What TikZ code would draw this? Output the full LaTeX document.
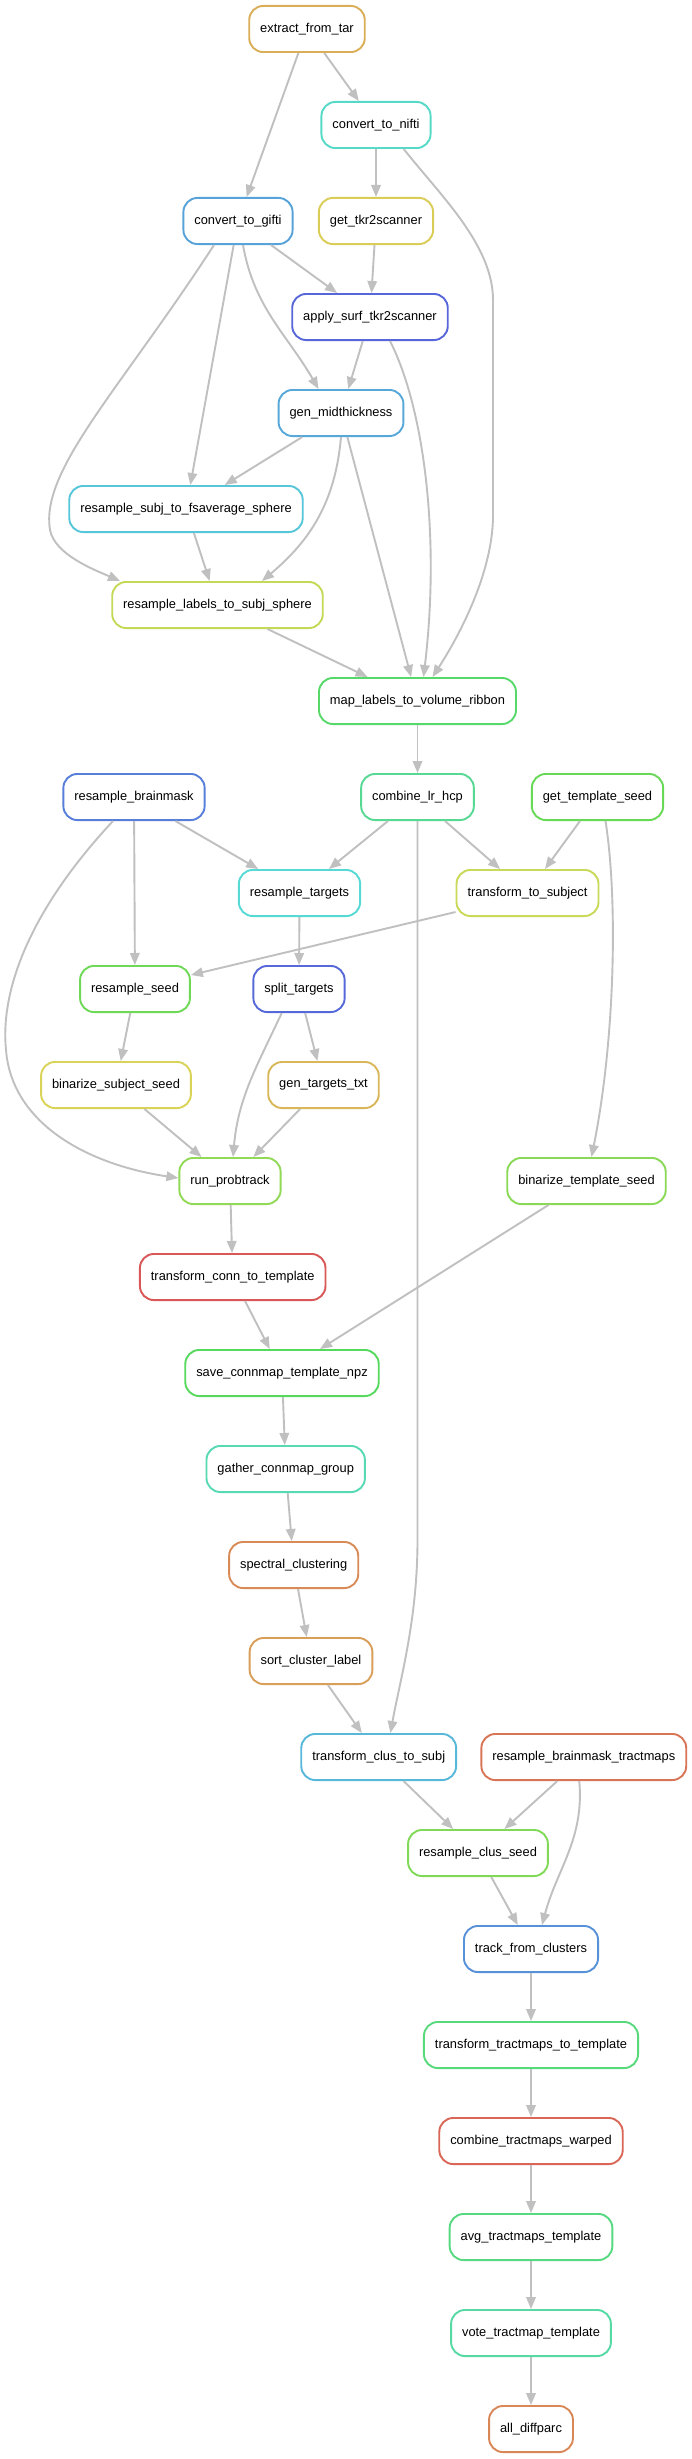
\documentclass[tikz,border=0pt]{standalone}
\usepackage{fontspec}
\setmainfont{Liberation Sans}
\usepackage{xcolor}
\usepackage{tikz}
\usetikzlibrary{arrows.meta}

\definecolor{edgegray}{HTML}{C0C0C0}
\definecolor{c_tar}{HTML}{D9AE57}
\definecolor{c_nifti}{HTML}{57D9C8}
\definecolor{c_gifti}{HTML}{57A3D9}
\definecolor{c_tkr}{HTML}{D9CC57}
\definecolor{c_apply}{HTML}{5766D9}
\definecolor{c_mid}{HTML}{57A8D9}
\definecolor{c_fsavg}{HTML}{57C6D9}
\definecolor{c_sphere}{HTML}{C5D957}
\definecolor{c_ribbon}{HTML}{57D96A}
\definecolor{c_bmask}{HTML}{577ED9}
\definecolor{c_combine}{HTML}{57D994}
\definecolor{c_tplseed}{HTML}{67D957}
\definecolor{c_restarg}{HTML}{57D9D6}
\definecolor{c_tosubj}{HTML}{CAD957}
\definecolor{c_resseed}{HTML}{6FD957}
\definecolor{c_split}{HTML}{5769D9}
\definecolor{c_binsubj}{HTML}{D9D457}
\definecolor{c_gentxt}{HTML}{D9B657}
\definecolor{c_probtrack}{HTML}{91D957}
\definecolor{c_bintpl}{HTML}{89D957}
\definecolor{c_conntpl}{HTML}{D95757}
\definecolor{c_npz}{HTML}{57D95E}
\definecolor{c_gather}{HTML}{57D9B4}
\definecolor{c_spectral}{HTML}{D98B57}
\definecolor{c_sort}{HTML}{D99E57}
\definecolor{c_clussubj}{HTML}{57B8D9}
\definecolor{c_bmtract}{HTML}{D97557}
\definecolor{c_clusseed}{HTML}{80D957}
\definecolor{c_track}{HTML}{5792D9}
\definecolor{c_tracttpl}{HTML}{57D97C}
\definecolor{c_warped}{HTML}{D96657}
\definecolor{c_avg}{HTML}{57D982}
\definecolor{c_vote}{HTML}{57D9A5}
\definecolor{c_diffparc}{HTML}{D98757}

\tikzset{
  rule/.style={draw=#1, rounded corners=14pt, line width=1.9pt, minimum height=46.1pt,
    inner xsep=11pt, inner ysep=0pt, font=\fontsize{12.85}{15}\selectfont},
  dep/.style={draw=edgegray, line width=1.9pt, -{Triangle[length=12pt,width=9.5pt]}}
}

\begin{document}
\begin{tikzpicture}[x=1pt,y=1pt]
					\useasboundingbox[fill=white] (0,0) rectangle (692,-2459);
					% rules
					\node[rule=c_tar] (tar) at (307,-29) {extract\_from\_tar};
					\node[rule=c_nifti] (nifti) at (376,-125) {convert\_to\_nifti};
					\node[rule=c_gifti] (gifti) at (238,-221) {convert\_to\_gifti};
					\node[rule=c_tkr] (tkr) at (376,-221) {get\_tkr2scanner};
					\node[rule=c_apply] (apply) at (370,-317) {apply\_surf\_tkr2scanner};
					\node[rule=c_mid] (mid) at (341,-413) {gen\_midthickness};
					\node[rule=c_fsavg] (fsavg) at (186,-509) {resample\_subj\_to\_fsaverage\_sphere};
					\node[rule=c_sphere] (sphere) at (217.5,-605) {resample\_labels\_to\_subj\_sphere};
					\node[rule=c_ribbon] (ribbon) at (417.5,-701) {map\_labels\_to\_volume\_ribbon};
					\node[rule=c_bmask] (bmask) at (134,-797) {resample\_brainmask};
					\node[rule=c_combine] (combine) at (417.5,-797) {combine\_lr\_hcp};
					\node[rule=c_tplseed] (tplseed) at (597.5,-797) {get\_template\_seed};
					\node[rule=c_restarg] (restarg) at (299.5,-893) {resample\_targets};
					\node[rule=c_tosubj] (tosubj) at (527.5,-893) {transform\_to\_subject};
					\node[rule=c_resseed] (resseed) at (135,-989) {resample\_seed};
					\node[rule=c_split] (split) at (299,-989) {split\_targets};
					\node[rule=c_binsubj] (binsubj) at (116,-1085) {binarize\_subject\_seed};
					\node[rule=c_gentxt] (gentxt) at (323.5,-1085) {gen\_targets\_txt};
					\node[rule=c_probtrack] (probtrack) at (230,-1181) {run\_probtrack};
					\node[rule=c_bintpl] (bintpl) at (586.5,-1181) {binarize\_template\_seed};
					\node[rule=c_conntpl] (conntpl) at (232.7,-1277) {transform\_conn\_to\_template};
					\node[rule=c_npz] (npz) at (282,-1373) {save\_connmap\_template\_npz};
					\node[rule=c_gather] (gather) at (285.7,-1469) {gather\_connmap\_group};
					\node[rule=c_spectral] (spectral) at (293.7,-1565) {spectral\_clustering};
					\node[rule=c_sort] (sort) at (311,-1661) {sort\_cluster\_label};
					\node[rule=c_clussubj] (clussubj) at (378.7,-1757) {transform\_clus\_to\_subj};
					\node[rule=c_bmtract] (bmtract) at (583.8,-1757) {resample\_brainmask\_tractmaps};
					\node[rule=c_clusseed] (clusseed) at (478,-1853) {resample\_clus\_seed};
					\node[rule=c_track] (track) at (531,-1949) {track\_from\_clusters};
					\node[rule=c_tracttpl] (tracttpl) at (531,-2045) {transform\_tractmaps\_to\_template};
					\node[rule=c_warped] (warped) at (531,-2141) {combine\_tractmaps\_warped};
					\node[rule=c_avg] (avg) at (531,-2237) {avg\_tractmaps\_template};
					\node[rule=c_vote] (vote) at (531,-2333) {vote\_tractmap\_template};
					\node[rule=c_diffparc] (diffparc) at (531,-2429) {all\_diffparc};

					% straight dependencies
					\foreach \a/\b in {tar/nifti, tar/gifti, nifti/tkr, gifti/apply, tkr/apply, gifti/fsavg,
						apply/mid, mid/fsavg, mid/ribbon, fsavg/sphere, sphere/ribbon, ribbon/combine,
						bmask/restarg, bmask/resseed, combine/restarg, combine/tosubj, tplseed/tosubj,
						restarg/split, resseed/binsubj, split/gentxt, binsubj/probtrack, gentxt/probtrack,
						probtrack/conntpl, bintpl/npz, conntpl/npz, npz/gather, gather/spectral,
						spectral/sort, sort/clussubj, clussubj/clusseed, bmtract/clusseed, clusseed/track,
						track/tracttpl, tracttpl/warped, warped/avg, avg/vote, vote/diffparc} {
						\draw[dep] (\a) -- (\b);
					}

					% curved dependencies
					\draw[dep] ([xshift=27.7pt]nifti.south) .. controls (440,-195) and (493,-245) .. (493,-300)
						-- (493,-515) .. controls (493,-580) and (450,-650) .. ([xshift=15pt]ribbon.north);
					\draw[dep] ([xshift=5pt]gifti.south) to [out=-80,in=120] ([xshift=-22.5pt]mid.north);
					\draw[dep] ([xshift=-24pt]gifti.south) .. controls (120,-390) and (40,-470) .. (50,-530)
						.. controls (55,-555) and (95,-570) .. ([xshift=-97.5pt]sphere.north);
					\draw[dep] ([xshift=20pt]apply.south) .. controls (425,-410) and (440,-540) .. ([xshift=6pt]ribbon.north);
					\draw[dep] (mid.south) to [out=-95,in=40] ([xshift=44.5pt]sphere.north);
					\draw[dep] ([xshift=-21pt]bmask.south) .. controls (30,-910) and (0,-990) .. (6,-1050)
						.. controls (12,-1125) and (90,-1165) .. ([yshift=3pt]probtrack.west);
					\draw[dep] (combine.south) -- (417.5,-1540) .. controls (417.5,-1620) and (400,-1680) .. ([xshift=11.7pt]clussubj.north);
					\draw[dep] ([xshift=8pt]tplseed.south) .. controls (618,-900) and (615,-1040) .. ([xshift=5pt]bintpl.north);
					\draw[dep] ([yshift=-19pt]tosubj.west) -- ([yshift=14pt]resseed.east);
					\draw[dep] ([xshift=-17.3pt]split.south) to [out=-115,in=85] ([xshift=3pt]probtrack.north);
					\draw[dep] ([xshift=-4.5pt]bmtract.south) to [out=-85,in=75] ([xshift=11pt]track.north);
				\end{tikzpicture}
\end{document}
